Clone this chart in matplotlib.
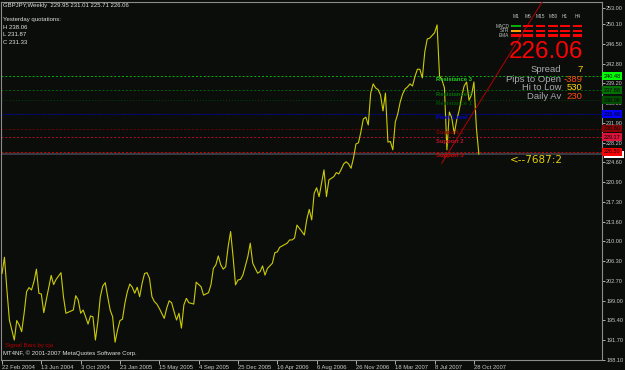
import matplotlib
matplotlib.use('Agg')
import matplotlib.pyplot as plt
from matplotlib.patches import Rectangle

W, H = 625, 370
BG = '#0b0d0b'
FONT = 'Liberation Sans'

# weekly closes (bar index from 22 Feb 2004)
bars = [0, 1, 2, 3, 5, 6, 7, 8, 9, 10, 11, 12, 13, 14, 15, 16, 17, 18, 20, 21,
        22, 24, 25, 26, 27, 29, 30, 31, 32, 33, 34, 35, 36, 37, 38, 39, 40, 41, 42, 43,
        44, 45, 46, 47, 48, 49, 50, 51, 52, 53, 54, 55, 56, 57, 58, 59, 60, 61, 62, 63,
        64, 66, 67, 68, 69, 70, 71, 72, 73, 74, 75, 76, 78, 79, 81, 82, 84, 85, 86, 87,
        88, 89, 90, 91, 92, 93, 94, 95, 96, 97, 98, 100, 101, 102, 104, 105, 106, 107, 108, 110,
        111, 112, 113, 114, 116, 117, 118, 119, 120, 121, 122, 123, 124, 125, 126, 127, 128, 129, 130, 131,
        132, 133, 134, 135, 136, 137, 138, 139, 140, 141, 142, 143, 144, 145, 146, 147, 148, 149, 150, 151,
        152, 153, 154, 155, 156, 157, 158, 159, 160, 161, 162, 163, 164, 165, 166, 167, 168, 169, 170, 171,
        172, 173, 174, 175, 176, 177, 178, 179, 180, 181, 182, 183, 184, 185, 186, 187, 188, 189, 190, 191,
        192, 193, 194]
closes = [204.0, 207.0, 200.95, 195.4, 191.7, 195.3, 194.5, 193.25, 196.65, 200.65,
          201.4, 200.95, 202.5, 204.8, 200.35, 200.2, 196.75, 199.1, 203.65, 201.95,
          202.9, 204.15, 199.7, 196.65, 196.85, 197.25, 199.9, 199.1, 196.65, 197.25,
          196.0, 194.65, 196.15, 196.0, 191.7, 195.1, 199.7, 201.7, 202.3, 199.7,
          197.25, 196.0, 191.3, 193.55, 195.3, 195.55, 198.5, 200.65, 202.05, 201.45,
          200.35, 201.45, 199.7, 202.2, 204.0, 204.15, 203.1, 199.7, 198.8, 198.35,
          197.55, 195.7, 197.55, 198.95, 198.6, 196.95, 195.4, 196.65, 193.9, 198.2,
          199.4, 198.6, 198.35, 202.4, 201.55, 200.0, 200.45, 201.9, 204.95, 205.6,
          207.25, 205.6, 204.8, 205.25, 208.95, 211.75, 207.1, 201.9, 202.8, 202.9,
          203.7, 207.1, 209.6, 205.9, 204.05, 204.35, 205.4, 203.7, 204.95, 205.9,
          207.85, 208.0, 208.85, 209.1, 209.6, 210.2, 210.2, 210.55, 212.95, 212.35,
          211.75, 211.1, 214.0, 215.85, 213.9, 218.85, 219.85, 218.2, 220.65, 223.15,
          218.2, 221.3, 221.6, 221.9, 222.65, 222.4, 223.25, 224.25, 224.65, 224.25,
          223.45, 225.35, 227.95, 228.15, 230.15, 232.55, 232.9, 231.45, 237.35, 239.05,
          238.3, 238.0, 237.0, 234.05, 237.35, 228.3, 228.4, 226.85, 232.0, 233.5,
          235.7, 237.2, 238.1, 238.5, 239.05, 238.65, 240.4, 241.75, 241.75, 240.15,
          244.95, 247.35, 247.5, 248.0, 248.5, 249.95, 240.5, 239.8, 238.3, 226.85,
          233.85, 232.75, 229.8, 232.4, 234.2, 236.65, 238.65, 239.4, 236.05, 237.0,
          239.4, 230.9, 226.06]

date_labels = ['22 Feb 2004', '13 Jun 2004', '3 Oct 2004', '23 Jan 2005', '15 May 2005',
               '4 Sep 2005', '25 Dec 2005', '16 Apr 2006', '6 Aug 2006', '26 Nov 2006',
               '18 Mar 2007', '8 Jul 2007', '28 Oct 2007']
date_bars = [0, 16, 32, 48, 64, 80, 96, 112, 128, 144, 160, 176, 192]

price_ticks = [253.00, 250.10, 246.50, 242.80, 239.20, 235.50, 231.90, 228.20, 224.60,
               220.90, 217.30, 213.60, 210.00, 206.30, 202.70, 199.00, 195.40, 191.70, 188.10]

level_names = ['Resistance 3', 'Resistance 2', 'Resistance 1', 'Pivot Level',
               'Support 1', 'Support 2', 'Support 3']
level_values = [240.48, 237.88, 236.06, 233.48, 230.80, 229.17, 226.50]
bid = 226.06

trend_x = [178.9, 220.3]
trend_y = [224.4, 254.6]

tf_names = ['M1', 'M5', 'M15', 'M30', 'H1', 'H4']
ind_names = ['MACD', 'STR', 'EMA']

line_colors = ['#00b400', '#006400', '#004800', '#0000c8', '#6e0000', '#b0102a', '#c80000']
line_styles = [(0, (2, 2)), (0, (2, 2)), (0, (1, 2)), (0, (1, 1)), (0, (2, 2)), (0, (2, 2)), (0, (2, 2))]
text_colors = ['#20d020', '#007000', '#005000', '#0000e0', '#800000', '#c01028', '#d80000']
box_colors = ['#00ff00', '#007000', '#004c00', '#0000ff', '#8b0000', '#dc143c', '#ff0000']

fig = plt.figure(figsize=(W / 100, H / 100), dpi=100, facecolor=BG)
ax = fig.add_axes([1 / W, 10 / H, 601 / W, 358.3 / H], facecolor=BG)

ax.plot(bars, closes, color='#cccc00', lw=0.8, zorder=3)
ax.set_xlim(-0.41, 244.1)
ax.set_ylim(188.01, 254.24)

for name, val, lc, ls, tc in zip(level_names, level_values, line_colors, line_styles, text_colors):
    ax.axhline(val, color=lc, lw=0.7, ls=ls, zorder=2)
    ax.text(176.6, val - 0.25, name, color=tc, fontsize=4.2, fontweight='bold',
            family=FONT, va='top', ha='left', zorder=4)
ax.axhline(bid, color='#3c4046', lw=1.3, zorder=1)
ax.plot(trend_x, trend_y, color='#b40000', lw=0.7, zorder=3)

# bid marker on the scale, mostly hidden under the Support 3 box
ax.add_patch(Rectangle((1.003, bid - 0.75), 0.034, 1.25, transform=ax.get_yaxis_transform(),
                       color='white', lw=0, clip_on=False, zorder=5))
for val, bc in zip(level_values, box_colors):
    ax.text(1.003, val, '%.2f' % val, transform=ax.get_yaxis_transform(), color='black',
            fontsize=4, family=FONT, va='center', ha='left', zorder=6, clip_on=False,
            bbox=dict(boxstyle='square,pad=0.25', fc=bc, ec='none'))

ax.yaxis.tick_right()
ax.set_yticks(price_ticks)
ax.set_yticklabels(['%.2f' % v for v in price_ticks])
ax.set_xticks(date_bars)
ax.set_xticklabels(date_labels, ha='left')
ax.tick_params(axis='y', colors='#c8c8c8', labelsize=4, length=2, width=0.6, pad=1)
ax.tick_params(axis='x', colors='#c8c8c8', labelsize=4.2, length=3, width=0.6, pad=0.3)
for lbl in ax.get_xticklabels() + ax.get_yticklabels():
    lbl.set_family(FONT)
for side in ax.spines:
    ax.spines[side].set_color('#8c8c8c')
    ax.spines[side].set_linewidth(0.8)

# overlay in pixel coordinates for the indicator texts
ov = fig.add_axes([0, 0, 1, 1], facecolor='none')
ov.set_xlim(0, W)
ov.set_ylim(H, 0)
ov.axis('off')

txt = '#e0e0e0'
ov.text(3, 6, 'GBPJPY,Weekly  229.95 231.01 225.71 226.06', color=txt, fontsize=4.3, family=FONT, va='center')
ov.text(3, 20, 'Yesterday quotations:', color=txt, fontsize=4.3, family=FONT, va='center')
ov.text(3, 27.3, 'H 238.06', color=txt, fontsize=4.3, family=FONT, va='center')
ov.text(3, 34.5, 'L 231.87', color=txt, fontsize=4.3, family=FONT, va='center')
ov.text(3, 42, 'C 231.33', color=txt, fontsize=4.3, family=FONT, va='center')

col_x = [511, 523, 535.5, 548, 560, 572.5]
row_y = [24.8, 29.6, 34.2]
cell_colors = [['#00b000', '#ff0000', '#ff0000', '#ff0000', '#ff0000', '#ff0000'],
               ['#ffa000', '#ff0000', '#ff0000', '#ff0000', '#ff0000', '#ff0000'],
               ['#ff0000', '#ff0000', '#ff0000', '#ff0000', '#ff0000', '#ff0000']]
for j, tf in enumerate(tf_names):
    ov.text(col_x[j] + 4.7, 17, tf, color='#c0c0c0', fontsize=3.4, family=FONT, ha='center', va='center')
for i, ind in enumerate(ind_names):
    ov.text(509, row_y[i] + 1.2, ind, color='#c0c0c0', fontsize=3.4, family=FONT, ha='right', va='center')
    for j in range(len(tf_names)):
        ov.add_patch(Rectangle((col_x[j], row_y[i]), 9.5, 2.6, color=cell_colors[i][j], lw=0))

ov.text(546, 51.5, '226.06', color='#ff0000', fontsize=17.5, family=FONT, ha='center', va='center')

stat_labels = ['Spread', 'Pips to Open', 'Hi to Low', 'Daily Av']
stat_values = ['7', '-389', '530', '230']
stat_colors = ['#ffd000', '#ff4a10', '#ffd800', '#ff4a10']
stat_y = [69.3, 79.3, 87.6, 96.7]
for lab, v, c, yy in zip(stat_labels, stat_values, stat_colors, stat_y):
    ov.text(561.5, yy, lab, color='#a8acb0', fontsize=6.8, family=FONT, ha='right', va='center')
    ov.text(582.5, yy, v, color=c, fontsize=6.8, family=FONT, ha='right', va='center')

ov.text(510, 160, '<--7687:2', color='#e0d000', fontsize=7.5, family='DejaVu Sans', ha='left', va='center')

ov.text(5, 346, 'Signal Bars by cja', color='#b00000', fontsize=4.3, family=FONT, va='center')
ov.text(3, 353.5, 'MT4NF, \u00a9 2001-2007 MetaQuotes Software Corp.', color=txt, fontsize=4.3, family=FONT, va='center')

fig.savefig('out.png', dpi=100, facecolor=BG)
